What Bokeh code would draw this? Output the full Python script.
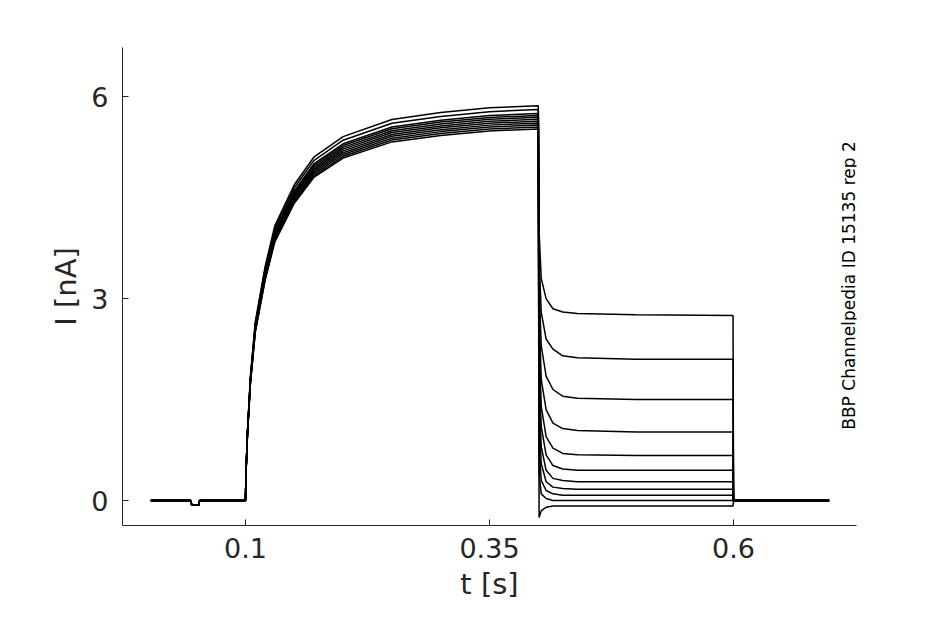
import math
from bokeh.plotting import figure
from bokeh.models import Label, Range1d, FixedTicker
from bokeh.embed import file_html
from bokeh.resources import INLINE

# pre-pulse baseline
pre_t = [0.003, 0.044, 0.045, 0.052, 0.053, 0.0995]
pre_i = [0.0, 0.0, -0.07, -0.07, 0.0, 0.0]
# activation (shared shape) and per-sweep plateau scale
act_t = [0.1, 0.1005, 0.102, 0.105, 0.11, 0.12, 0.13, 0.15, 0.17, 0.2, 0.25, 0.3, 0.35, 0.3995]
act_i = [0.0, 0.4, 1.0, 1.8, 2.6, 3.4, 4.0, 4.6, 5.0, 5.3, 5.55, 5.65, 5.72, 5.75]
act_scale = [1.02, 1.01, 1.0, 0.995, 0.99, 0.985, 0.98, 0.975, 0.97, 0.965, 0.96]
# deactivation
dec_t = [0.4, 0.4008, 0.403, 0.408, 0.415, 0.425, 0.44, 0.5, 0.5995]
dec_i = [
    [5.86, 4.0, 3.3, 3.0, 2.85, 2.8, 2.78, 2.76, 2.75],
    [5.8, 3.6, 2.8, 2.4, 2.25, 2.15, 2.12, 2.1, 2.1],
    [5.75, 3.2, 2.3, 1.85, 1.65, 1.55, 1.52, 1.5, 1.5],
    [5.72, 2.8, 1.8, 1.35, 1.15, 1.07, 1.04, 1.02, 1.02],
    [5.69, 2.4, 1.4, 0.95, 0.78, 0.7, 0.68, 0.67, 0.67],
    [5.66, 2.0, 1.1, 0.68, 0.52, 0.47, 0.45, 0.45, 0.45],
    [5.63, 1.6, 0.8, 0.45, 0.33, 0.3, 0.28, 0.28, 0.28],
    [5.6, 1.2, 0.55, 0.28, 0.2, 0.18, 0.17, 0.17, 0.17],
    [5.58, 0.8, 0.3, 0.15, 0.1, 0.08, 0.08, 0.08, 0.08],
    [5.55, 0.4, 0.1, 0.03, 0.0, 0.0, 0.0, 0.0, 0.0],
    [5.52, -0.25, -0.15, -0.1, -0.08, -0.08, -0.08, -0.08, -0.08],
]
post_t = [0.6, 0.6005, 0.698]
post_i = [0.0, 0.0, 0.0]

x_ticks = [0.1, 0.35, 0.6]
y_ticks = [0, 3, 6]

p = figure(width=929, height=608, output_backend="svg", toolbar_location=None,
           x_range=Range1d(-0.026, 0.726), y_range=Range1d(-0.37, 6.73),
           min_border_left=122, min_border_right=73, min_border_top=47, min_border_bottom=83)
p.outline_line_color = None
p.grid.visible = False

for k in range(len(dec_i)):
    ts = pre_t + act_t + dec_t + post_t
    vs = pre_i + [v * act_scale[k] for v in act_i] + dec_i[k] + post_i
    p.line(ts, vs, line_color="black", line_width=1.5)

for ax, ticks, lab in ((p.xaxis, x_ticks, "t [s]"), (p.yaxis, y_ticks, "I [nA]")):
    ax.ticker = FixedTicker(ticks=ticks)
    ax.axis_label = lab
    ax.axis_label_text_font = "DejaVu Sans"
    ax.axis_label_text_font_size = "29px"
    ax.axis_label_text_font_style = "normal"
    ax.axis_label_text_color = "#262626"
    ax.major_label_text_font = "DejaVu Sans"
    ax.major_label_text_font_size = "27px"
    ax.major_label_text_color = "#262626"
    ax.major_tick_in = 6
    ax.major_tick_out = 0
    ax.minor_tick_line_color = None
    ax.axis_line_color = "#262626"
    ax.major_tick_line_color = "#262626"
p.xaxis.major_label_standoff = 12
p.yaxis.major_label_standoff = 14
p.xaxis.axis_label_standoff = 6
p.xaxis.major_label_overrides = {0.1: "0.1", 0.35: "0.35", 0.6: "0.6"}

p.add_layout(Label(x=36, y=485, x_units="screen", y_units="screen",
                   text="Kv10.1  Rat  CHO  25 °C", text_font="DejaVu Sans",
                   text_font_style="bold", text_font_size="18px",
                   text_baseline="middle", text_color="black"))
p.add_layout(Label(x=718, y=487, x_units="screen", y_units="screen",
                   text="Deactivation", text_font="DejaVu Sans", text_font_size="18px",
                   text_align="right", text_baseline="middle", text_color="black"))
p.add_layout(Label(x=726, y=240, x_units="screen", y_units="screen",
                   text="BBP Channelpedia ID 15135 rep 2", text_font="DejaVu Sans",
                   text_font_size="17px", angle=math.pi / 2,
                   text_align="center", text_baseline="middle", text_color="black"))

open("out.html", "w").write(file_html(p, INLINE))
